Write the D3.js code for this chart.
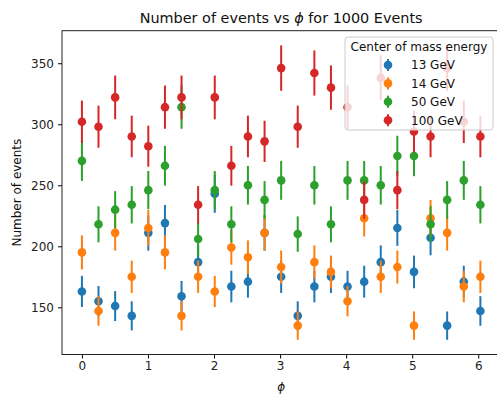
<!DOCTYPE html>
<html>
<head>
<meta charset="utf-8">
<script src="https://cdn.jsdelivr.net/npm/d3@7"></script>
<style>
  html, body { margin: 0; padding: 0; background: #fff; }
  svg { display: block; font-family: "DejaVu Sans", sans-serif; }
</style>
</head>
<body>
<svg id="chart" width="497" height="394"></svg>
<script>
// Azimuthal angle bins (radians)
const phi = [0.000, 0.251, 0.503, 0.754, 1.005, 1.257, 1.508, 1.759, 2.011, 2.262,
             2.513, 2.765, 3.016, 3.267, 3.519, 3.770, 4.021, 4.273, 4.524, 4.775,
             5.027, 5.278, 5.529, 5.781, 6.032];

// Event counts per bin for each centre-of-mass energy
const counts13 = [163, 155, 151, 143, 211, 219, 159, 187, 243, 167, 171, 211, 175, 143, 167,
                  175, 167, 171, 187, 215, 179, 207, 135, 171, 147];
const counts14 = [195, 147, 211, 175, 215, 195, 143, 175, 163, 199, 191, 211, 183, 135, 187,
                  179, 155, 223, 175, 183, 135, 223, 211, 167, 175];
const counts50 = [270, 218, 230, 234, 246, 266, 314, 206, 246, 218, 250, 238, 254, 210, 250,
                  218, 254, 254, 250, 274, 274, 218, 238, 254, 234];
const counts100 = [302, 298, 322, 290, 282, 314, 322, 234, 322, 266, 290, 286, 346, 298, 342,
                   330, 314, 238, 338, 246, 294, 290, 346, 302, 290];

const seriesNames = ["13 GeV", "14 GeV", "50 GeV", "100 GeV"];
const seriesColors = ["#1f77b4", "#ff7f0e", "#2ca02c", "#d62728"];
const xTicks = [0, 1, 2, 3, 4, 5, 6];
const yTicks = [150, 200, 250, 300, 350];

const series = [counts13, counts14, counts50, counts100].map((vals, k) => ({
  name: seriesNames[k],
  color: seriesColors[k],
  points: vals.map((n, i) => ({ x: phi[i], y: n, err: Math.sqrt(n) }))
}));

const svg = d3.select("#chart");
const plotLeft = 62, plotRight = 500.3, plotTop = 30.7, plotBottom = 354.5;

// Axis limits with a 5% pad around the data (including error bars)
const xExt = d3.extent(phi);
const xPad = (xExt[1] - xExt[0]) * 0.05;
const allPts = series.flatMap(s => s.points);
const yMin = d3.min(allPts, p => p.y - p.err);
const yMax = d3.max(allPts, p => p.y + p.err);
const yPad = (yMax - yMin) * 0.05;

const x = d3.scaleLinear().domain([xExt[0] - xPad, xExt[1] + xPad]).range([plotLeft, plotRight]);
const y = d3.scaleLinear().domain([yMin - yPad, yMax + yPad]).range([plotBottom, plotTop]);

// Data: error bars then markers, series by series
const plot = svg.append("g");
series.forEach(s => {
  const g = plot.append("g");
  g.selectAll("line").data(s.points).join("line")
    .attr("x1", d => x(d.x)).attr("x2", d => x(d.x))
    .attr("y1", d => y(d.y - d.err)).attr("y2", d => y(d.y + d.err))
    .attr("stroke", s.color).attr("stroke-width", 2);
  g.selectAll("circle").data(s.points).join("circle")
    .attr("cx", d => x(d.x)).attr("cy", d => y(d.y))
    .attr("r", 4.3).attr("fill", s.color);
});

// Axes
const xAxis = d3.axisBottom(x).tickValues(xTicks).tickFormat(d3.format("d"))
  .tickSizeInner(4).tickSizeOuter(0).tickPadding(3);
const yAxis = d3.axisLeft(y).tickValues(yTicks).tickFormat(d3.format("d"))
  .tickSizeInner(4).tickSizeOuter(0).tickPadding(4);

const gx = svg.append("g").attr("transform", `translate(0,${plotBottom})`).call(xAxis);
const gy = svg.append("g").attr("transform", `translate(${plotLeft},0)`).call(yAxis);
[gx, gy].forEach(g => {
  g.select(".domain").remove();
  g.selectAll("line").attr("stroke", "#000").attr("stroke-width", 1);
  g.selectAll("text").attr("font-size", 12).attr("fill", "#222").attr("font-family", "DejaVu Sans");
});

// Frame
svg.append("rect")
  .attr("x", plotLeft).attr("y", plotTop)
  .attr("width", plotRight - plotLeft).attr("height", plotBottom - plotTop)
  .attr("fill", "none").attr("stroke", "#222").attr("stroke-width", 1);

// Title and axis labels
const title = svg.append("text")
  .attr("x", (plotLeft + plotRight) / 2).attr("y", 23)
  .attr("text-anchor", "middle").attr("font-size", 14.4).attr("fill", "#111");
title.append("tspan").text("Number of events vs ");
title.append("tspan").attr("font-style", "italic").text("ϕ");
title.append("tspan").text(" for 1000 Events");

svg.append("text")
  .attr("x", (plotLeft + plotRight) / 2).attr("y", 391)
  .attr("text-anchor", "middle").attr("font-size", 12).attr("font-style", "italic")
  .attr("fill", "#111").text("ϕ");

svg.append("text")
  .attr("transform", `translate(21,${(plotTop + plotBottom) / 2}) rotate(-90)`)
  .attr("text-anchor", "middle").attr("font-size", 12).attr("fill", "#111")
  .text("Number of events");

// Legend
const lg = svg.append("g");
const lx = 345, ly = 37, lw = 148, lh = 93;
lg.append("rect")
  .attr("x", lx).attr("y", ly).attr("width", lw).attr("height", lh)
  .attr("rx", 3).attr("fill", "#fff").attr("fill-opacity", 0.8)
  .attr("stroke", "#ccc").attr("stroke-width", 1);
lg.append("text")
  .attr("x", lx + lw / 2).attr("y", 51)
  .attr("text-anchor", "middle").attr("font-size", 12).attr("fill", "#111")
  .text("Center of mass energy");
series.forEach((s, k) => {
  const cy = 65 + k * 18.4;
  lg.append("line")
    .attr("x1", 388).attr("x2", 388).attr("y1", cy - 6).attr("y2", cy + 6)
    .attr("stroke", s.color).attr("stroke-width", 2);
  lg.append("circle").attr("cx", 388).attr("cy", cy).attr("r", 4.3).attr("fill", s.color);
  lg.append("text")
    .attr("x", 411).attr("y", cy + 4.3)
    .attr("font-size", 12).attr("fill", "#111").text(s.name);
});
</script>
</body>
</html>
